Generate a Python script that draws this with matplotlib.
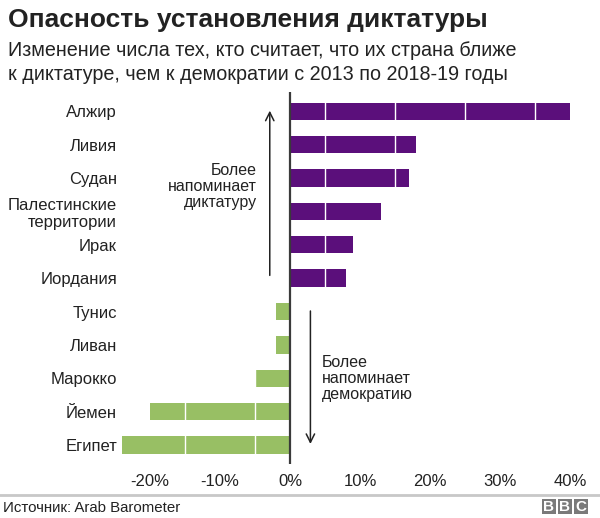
import matplotlib.pyplot as plt
from matplotlib.patches import Rectangle
import numpy as np

countries = ['Алжир', 'Ливия', 'Судан', 'Палестинские\nтерритории', 'Ирак',
             'Иордания', 'Тунис', 'Ливан', 'Марокко', 'Йемен', 'Египет']
change = [40, 18, 17, 13, 9, 8, -2, -2, -5, -20, -24]
xticks = [-20, -10, 0, 10, 20, 30, 40]
xtick_labels = ['-20%', '-10%', '0%', '10%', '20%', '30%', '40%']

purple = '#5b0f7b'
green = '#98bf64'
text_col = '#222222'

plt.rcParams['font.family'] = ['Liberation Sans', 'DejaVu Sans']

fig = plt.figure(figsize=(6, 5.18), dpi=100)
ax = fig.add_axes([0.195, 0.104, 0.772, 0.718])

y = np.arange(len(countries))
colors = [purple if v > 0 else green for v in change]
ax.barh(y, change, height=0.52, color=colors, zorder=2)

# white division lines across the bars
for gx in [-15, -5, 5, 15, 25, 35]:
    ax.axvline(gx, color='white', lw=1, zorder=3)
ax.axvline(0, color='#3a3a3a', lw=1.6, zorder=4)

ax.set_xlim(-24.7, 41.4)
ax.set_ylim(len(countries) - 0.43, -0.57)
ax.set_yticks(y)
ax.set_yticklabels(countries, fontsize=12, color=text_col)
ax.set_xticks(xticks)
ax.set_xticklabels(xtick_labels, fontsize=12, color=text_col)
ax.tick_params(length=0)
ax.tick_params(axis='y', pad=0)
ax.tick_params(axis='x', pad=7)
for s in ax.spines.values():
    s.set_visible(False)

# arrows and notes
ax.annotate('', xy=(-2.9, -0.1), xytext=(-2.9, 5.0),
            arrowprops=dict(arrowstyle='->', color=text_col, lw=1.1,
                            mutation_scale=15), zorder=5)
ax.text(-4.7, 2.25, 'Более\nнапоминает\nдиктатуру', ha='right', va='center',
        fontsize=11.5, color=text_col, linespacing=1.1, zorder=6)
ax.annotate('', xy=(2.9, 10.05), xytext=(2.9, 5.9),
            arrowprops=dict(arrowstyle='->', color=text_col, lw=1.1,
                            mutation_scale=15), zorder=5)
ax.text(4.5, 8.0, 'Более\nнапоминает\nдемократию', ha='left', va='center',
        fontsize=11.5, color=text_col, linespacing=1.1, zorder=6)

fig.text(0.013, 0.985, 'Опасность установления диктатуры', fontsize=19,
         fontweight='bold', color=text_col, va='top', ha='left')
fig.text(0.013, 1 - 41 / 518,
         'Изменение числа тех, кто считает, что их страна ближе\n'
         'к диктатуре, чем к демократии с 2013 по 2018-19 годы',
         fontsize=14.2, color=text_col, va='top', ha='left', linespacing=1.3)

fig.add_artist(plt.Line2D([0, 1], [1 - 495 / 518, 1 - 495 / 518],
                          color='#c8c8c8', lw=2, transform=fig.transFigure))
fig.text(0.005, 1 - 508 / 518, 'Источник: Arab Barometer', fontsize=10.8,
         color=text_col, va='center', ha='left')
for i, letter in enumerate('BBC'):
    x0 = 541.7 + i * 16
    fig.add_artist(Rectangle((x0 / 600, 1 - 514 / 518), 14.5 / 600, 14.7 / 518,
                             transform=fig.transFigure, fc='#7a7a7a', ec='none'))
    fig.text((x0 + 7.25) / 600, 1 - 506.8 / 518, letter, fontsize=11,
             fontweight='bold', color='white', va='center', ha='center')

fig.savefig('out.png', dpi=100)
